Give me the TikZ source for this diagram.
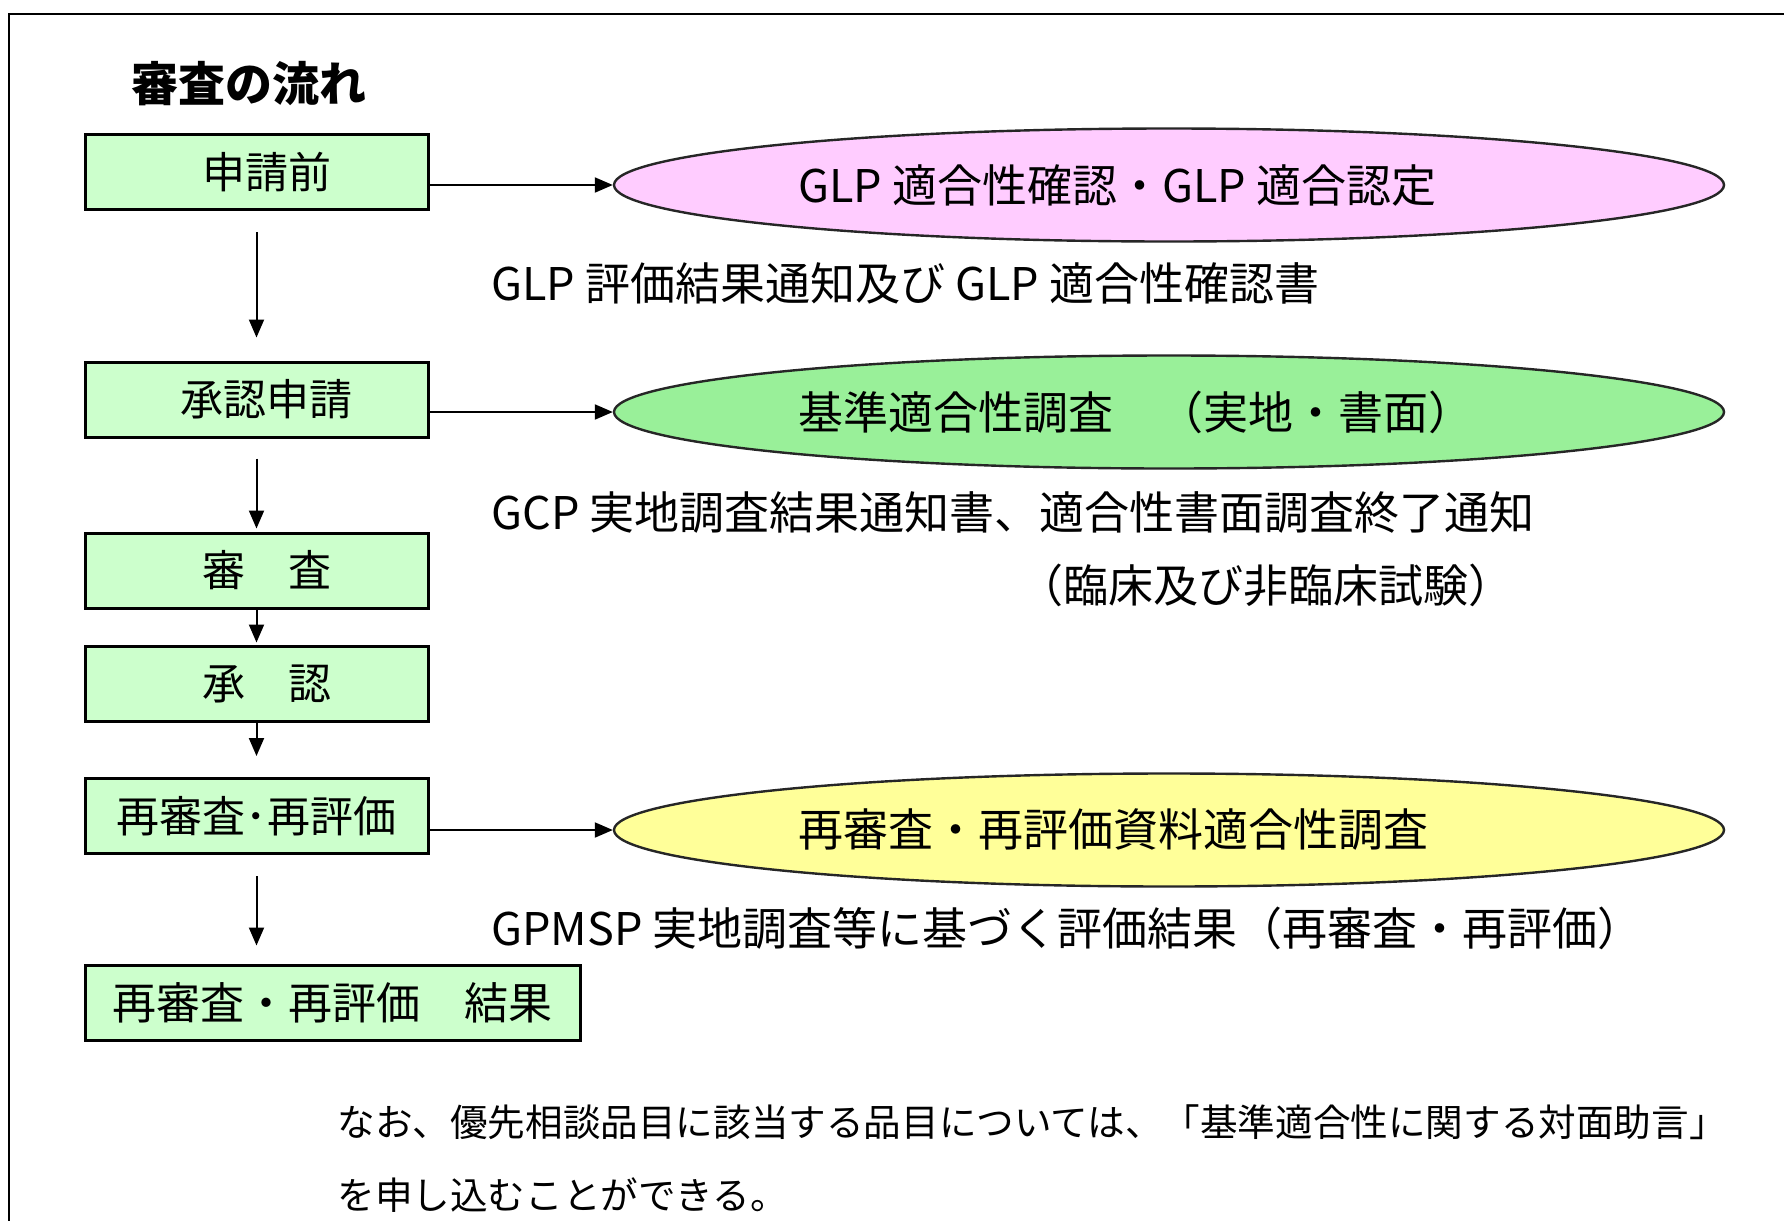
\documentclass[tikz,border=0pt]{standalone}
\usepackage{fontspec}
\newfontfamily\jp{Noto Sans CJK JP}
\usetikzlibrary{shapes.geometric,arrows.meta}
\definecolor{boxgreen}{HTML}{CCFFCC}
\definecolor{ellpink}{HTML}{FFCCFF}
\definecolor{ellgreen}{HTML}{99F099}
\definecolor{ellyellow}{HTML}{FFFF99}
\begin{document}
\begin{tikzpicture}[x=0.5pt,y=-0.5pt,
  stepbox/.style={draw=black,line width=1.5pt,fill=boxgreen,inner sep=0pt,
    minimum width=171.5pt,minimum height=37.5pt,font=\jp\fontsize{21.5pt}{25pt}\selectfont},
  ell/.style={ellipse,draw=black!85,line width=1.2pt,inner sep=0pt,
    minimum width=555pt,minimum height=56.5pt},
  lbl/.style={anchor=west,inner sep=0pt,font=\jp\fontsize{22.5pt}{26pt}\selectfont},
  note/.style={anchor=west,inner sep=0pt,font=\jp\fontsize{18.8pt}{22pt}\selectfont},
  arr/.style={line width=1pt,-{Triangle[length=9pt,width=7.5pt]}}]
\useasboundingbox (0,0) rectangle (1784,1221);
\fill[white] (0,0) rectangle (1784,1221);
\draw[line width=1pt] (9,1221) -- (9,14) -- (1784,14);

\node[anchor=west,inner sep=0pt,font=\jp\bfseries\fontsize{23.5pt}{28pt}\selectfont] (title) at (131,84) {審査の流れ};

\node[stepbox] (b1) at (256.5,172) {\hspace*{10pt}申請前};
\node[stepbox] (b2) at (256.5,399.5) {\hspace*{10pt}承認申請};
\node[stepbox] (b3) at (256.5,570.5) {\hspace*{10pt}審　査};
\node[stepbox] (b4) at (256.5,683.5) {\hspace*{10pt}承　認};
\node[stepbox] (b5) at (256.5,816) {再審査･再評価};
\node[stepbox,minimum width=247.5pt,font=\jp\fontsize{22pt}{26pt}\selectfont] (b6) at (332.5,1002.5) {再審査・再評価　結果};

\node[ell,fill=ellpink] (e1) at (1169,185) {};
\node[ell,fill=ellgreen] (e2) at (1169,412) {};
\node[ell,fill=ellyellow] (e3) at (1169,830) {};

\node[lbl] (t1) at (798,185) {GLP 適合性確認・GLP 適合認定};
\node[lbl] (t2) at (798,412) {基準適合性調査　（実地・書面）};
\node[lbl] (t3) at (798,830) {再審査・再評価資料適合性調査};

\node[lbl] (n1) at (491,283) {GLP 評価結果通知及び GLP 適合性確認書};
\node[lbl] (n2) at (491,512) {GCP 実地調査結果通知書、適合性書面調査終了通知};
\node[lbl] (n3) at (1018,585) {（臨床及び非臨床試験）};
\node[lbl] (n4) at (491,928) {GPMSP 実地調査等に基づく評価結果（再審査・再評価）};

\node[note] (m1) at (337,1122) {なお、優先相談品目に該当する品目については、「基準適合性に関する対面助言」};
\node[note] (m2) at (337,1195) {を申し込むことができる。};

\draw[arr] (b1.east |- e1.west) -- (e1.west);
\draw[arr] (b2.east |- e2.west) -- (e2.west);
\draw[arr] (b5.east |- e3.west) -- (e3.west);

\draw[arr,shorten <=10.5pt,shorten >=11.5pt] (b1.south) -- (b2.north);
\draw[arr,shorten <=10pt,shorten >=1.5pt] (b2.south) -- (b3.north);
\draw[arr,shorten >=1pt] (b3.south) -- (b4.north);
\draw[arr,shorten >=10.5pt] (b4.south) -- (b5.north);
\draw[arr,shorten <=10.5pt,shorten >=9pt] (b5.south) -- (b5.south |- b6.north);
\end{tikzpicture}
\end{document}
